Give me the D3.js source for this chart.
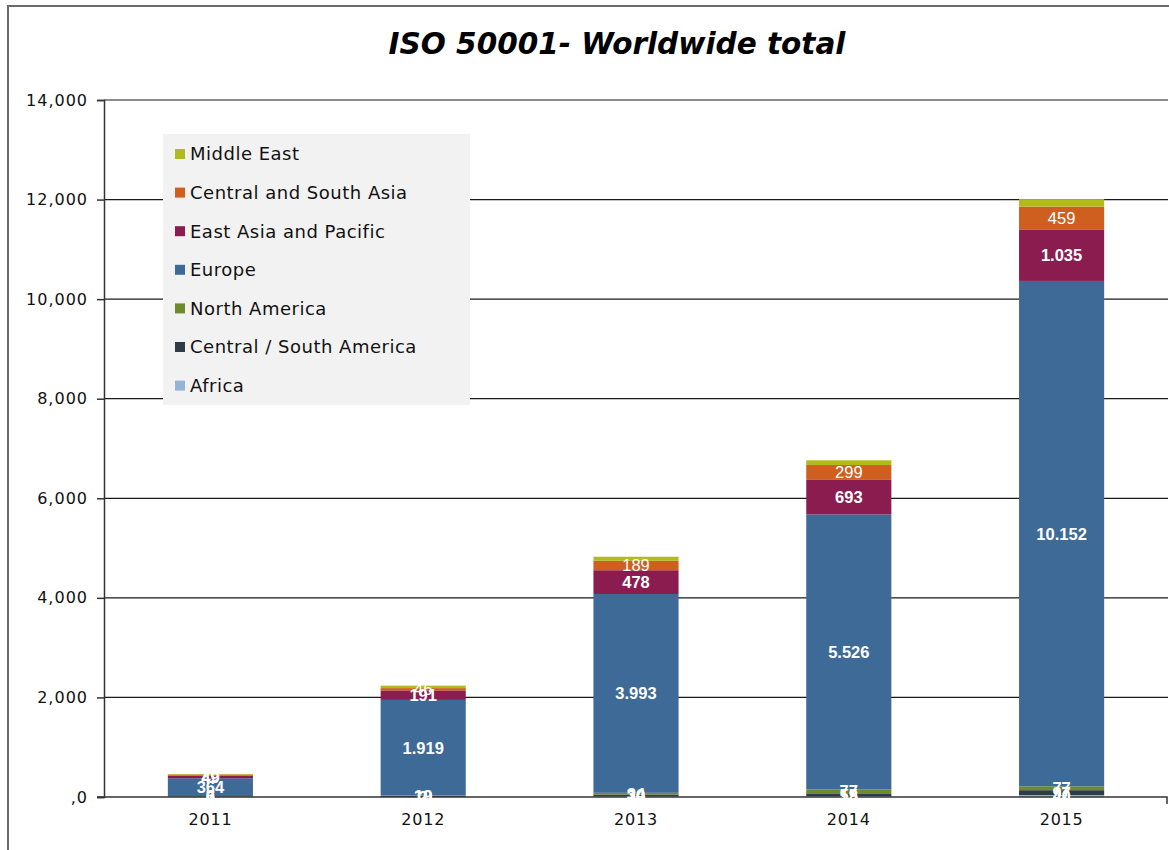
<!DOCTYPE html>
<html>
<head>
<meta charset="utf-8">
<script src="https://cdn.jsdelivr.net/npm/d3@7"></script>
<style>
  html, body { margin: 0; padding: 0; background: #fff; }
  svg { display: block; }
</style>
</head>
<body>
<svg id="chart" width="1169" height="850"></svg>
<script>
// ISO 50001 certificates by region, stacked per year
const years = ["2011", "2012", "2013", "2014", "2015"];

// regions, bottom of stack first
const regions = [
  "Africa",
  "Central / South America",
  "North America",
  "Europe",
  "East Asia and Pacific",
  "Central and South Asia",
  "Middle East"
];

const africa          = [0, 2, 20, 18, 40];
const centralSouthAm  = [7, 19, 30, 55, 97];
const northAmerica    = [6, 10, 34, 77, 77];
const europe          = [364, 1919, 3993, 5526, 10152];
const eastAsiaPacific = [49, 191, 478, 693, 1035];
const centralSouthAs  = [26, 46, 189, 299, 459];
const middleEast      = [12, 50, 82, 95, 150];

const regionColors = [
  "#95b3d7", "#2f3b47", "#6f8a2e", "#3d6a96", "#8b1c4f", "#cf5f1f", "#b1bb1b"
];

// legend lists the regions top of stack first
const legendOrder = [
  "Middle East",
  "Central and South Asia",
  "East Asia and Pacific",
  "Europe",
  "North America",
  "Central / South America",
  "Africa"
];

const yTicks = [0, 2000, 4000, 6000, 8000, 10000, 12000, 14000];
const yTickLabels = [",0", "2,000", "4,000", "6,000", "8,000", "10,000", "12,000", "14,000"];

// regions whose segment values are printed inside the bars
const labelledRegions = regions.filter(r => r !== "Middle East");

const seriesValues = [africa, centralSouthAm, northAmerica, europe, eastAsiaPacific, centralSouthAs, middleEast];
const table = years.map((yr, i) => {
  const row = { year: yr };
  regions.forEach((r, k) => { row[r] = seriesValues[k][i]; });
  return row;
});

const svg = d3.select("#chart");
const plot = { left: 104, right: 1168, top: 100, bottom: 797 };
const uiFont = "'DejaVu Sans', Verdana, sans-serif";

// outer frame (top and left edges)
svg.append("path")
  .attr("d", "M8,850 V6 H1169")
  .attr("fill", "none")
  .attr("stroke", "#6a6a6a")
  .attr("stroke-width", 2);

// title
svg.append("text")
  .attr("x", 617)
  .attr("y", 54)
  .attr("text-anchor", "middle")
  .attr("font-family", uiFont)
  .attr("font-weight", "bold")
  .attr("font-style", "italic")
  .attr("font-size", 29.5)
  .attr("fill", "#000")
  .text("ISO 50001- Worldwide total");

const x = d3.scaleBand()
  .domain(years)
  .range([plot.left, plot.right])
  .paddingInner(0.6)
  .paddingOuter(0.3);

const y = d3.scaleLinear()
  .domain([0, 14000])
  .range([plot.bottom, plot.top]);

// horizontal gridlines
svg.append("g")
  .selectAll("line")
  .data(yTicks.filter(t => t > 0))
  .join("line")
  .attr("x1", plot.left)
  .attr("x2", plot.right)
  .attr("y1", d => y(d))
  .attr("y2", d => y(d))
  .attr("stroke", "#1a1a1a")
  .attr("stroke-width", 1.2);

// y axis
const yAxis = d3.axisLeft(y)
  .tickValues(yTicks)
  .tickFormat((d, i) => yTickLabels[i])
  .tickSize(7)
  .tickPadding(9);

const yg = svg.append("g")
  .attr("transform", `translate(${plot.left},0)`)
  .call(yAxis);
yg.select(".domain").attr("stroke", "#333").attr("stroke-width", 1.5);
yg.selectAll(".tick line").attr("stroke", "#333").attr("stroke-width", 1.5);
yg.selectAll(".tick text")
  .attr("font-family", uiFont)
  .attr("font-size", 16)
  .attr("letter-spacing", 1)
  .attr("fill", "#111");

// stacked bars
const stack = d3.stack().keys(regions);
const layers = stack(table);
const color = d3.scaleOrdinal().domain(regions).range(regionColors);

svg.append("g")
  .selectAll("g")
  .data(layers)
  .join("g")
  .attr("fill", d => color(d.key))
  .selectAll("rect")
  .data(d => d)
  .join("rect")
  .attr("x", d => x(d.data.year))
  .attr("width", x.bandwidth())
  .attr("y", d => y(d[1]))
  .attr("height", d => y(d[0]) - y(d[1]));

// x axis
const xAxis = d3.axisBottom(x).tickSize(0).tickPadding(17);
const xg = svg.append("g")
  .attr("transform", `translate(0,${plot.bottom})`)
  .call(xAxis);
xg.select(".domain").remove();
xg.selectAll(".tick text")
  .attr("font-family", uiFont)
  .attr("font-size", 16)
  .attr("letter-spacing", 0.8)
  .attr("fill", "#111");
svg.append("path")
  .attr("d", `M${plot.left - 7},${plot.bottom} H${plot.right - 1} V${plot.bottom + 7}`)
  .attr("fill", "none")
  .attr("stroke", "#333")
  .attr("stroke-width", 1.5);

// value labels inside segments
const euro = d3.formatLocale({ decimal: ",", thousands: ".", grouping: [3], currency: ["", ""] }).format(",");
svg.append("g")
  .selectAll("g")
  .data(layers.filter(l => labelledRegions.includes(l.key)))
  .join("g")
  .selectAll("text")
  .data(d => d.map(p => ({ p, key: d.key })))
  .join("text")
  .attr("x", d => x(d.p.data.year) + x.bandwidth() / 2)
  .attr("y", d => (y(d.p[0]) + y(d.p[1])) / 2)
  .attr("dy", "0.36em")
  .attr("text-anchor", "middle")
  .attr("font-family", "'Liberation Sans', Arial, sans-serif")
  .attr("font-weight", d => (d.key === "Central and South Asia" ? "normal" : "bold"))
  .attr("font-size", 16.5)
  .attr("fill", "#fff")
  .text(d => euro(d.p.data[d.key]));

// legend
const legend = svg.append("g").attr("transform", "translate(163,134)");
legend.append("rect")
  .attr("width", 307)
  .attr("height", 271)
  .attr("fill", "#f2f2f2");
const items = legend.selectAll("g")
  .data(legendOrder)
  .join("g")
  .attr("transform", (d, i) => `translate(0,${20 + i * 38.6})`);
items.append("rect")
  .attr("x", 12)
  .attr("y", -5)
  .attr("width", 10)
  .attr("height", 10)
  .attr("fill", d => color(d));
items.append("text")
  .attr("x", 27)
  .attr("dy", "0.36em")
  .attr("font-family", uiFont)
  .attr("font-size", 18)
  .attr("letter-spacing", 0.5)
  .attr("fill", "#111")
  .text(d => d);
</script>
</body>
</html>
